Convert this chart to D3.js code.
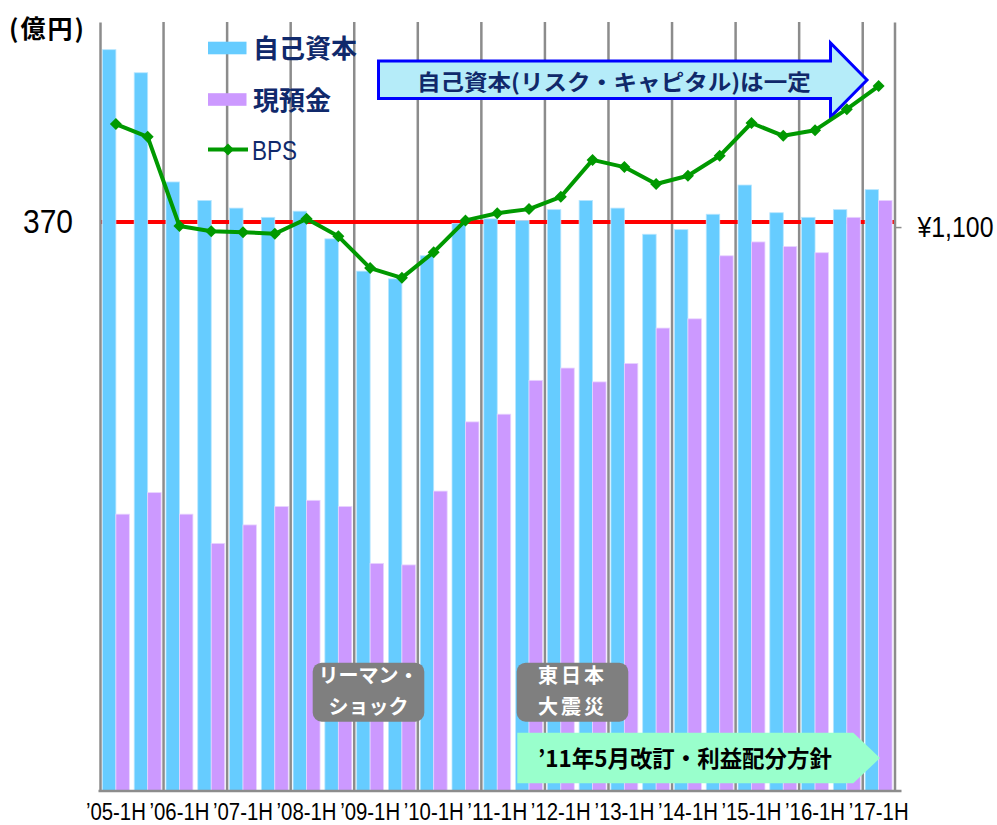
<!DOCTYPE html>
<html>
<head>
<meta charset="utf-8">
<script src="https://cdn.jsdelivr.net/npm/d3@7"></script>
<style>
	body { margin: 0; background: #fff; }
	svg { display: block; }
</style>
</head>
<body>
<div id="chart"></div>
<script>
// Half-year periods
var periods = [
	"’05-1H", "’05-2H", "’06-1H", "’06-2H", "’07-1H", "’07-2H", "’08-1H", "’08-2H",
	"’09-1H", "’09-2H", "’10-1H", "’10-2H", "’11-1H", "’11-2H", "’12-1H", "’12-2H",
	"’13-1H", "’13-2H", "’14-1H", "’14-2H", "’15-1H", "’15-2H", "’16-1H", "’16-2H",
	"’17-1H"
];
// Axis labels shown under the chart
var tickLabels = periods.filter(function(d) { return d.slice(-2) === "1H"; });
// 自己資本 (億円)
var equity = [
	482, 467, 396, 384, 379, 373, 377, 359, 338, 333, 348, 369, 372,
	371, 378, 384, 379, 362, 365, 375, 394, 376, 373, 378, 391
];
// 現預金 (億円)
var cashDeposits = [
	180, 194, 180, 161, 173, 185, 189, 185, 148, 147, 195, 240, 245,
	267, 275, 266, 278, 301, 307, 348, 357, 354, 350, 373, 384
];
// BPS (円)
var bps = [
	1301, 1276, 1102, 1092, 1090, 1087, 1116, 1082, 1020, 1001, 1051, 1113, 1127,
	1135, 1159, 1231, 1217, 1184, 1200, 1239, 1303, 1278, 1289, 1330, 1375
];
// Reference levels
var equityLevel = [370];
var bpsLevel = [1100];

// Canvas parameters
var canvas = {
	width: 997,
	height: 825,
	left: 100,
	right: 894.5,
	top: 22,
	bottom: 791
};
var colors = {
	equity: "#66CCFF",
	equityEdge: "#B8E6FF",
	cash: "#CC99FF",
	cashEdge: "#E8D4FF",
	bps: "#009900",
	grid: "#8C8C8C",
	level: "#FF0000",
	navy: "#10296B"
};
var jpFont = "'Noto Sans CJK JP', 'Noto Sans CJK SC', sans-serif";
var numFont = "'Liberation Sans', 'DejaVu Sans', sans-serif";

// Squeeze a text horizontally to a target width (narrow font look)
function narrow(selection, width) {
	selection.each(function() {
		var node = d3.select(this);
		var sx = width / this.getComputedTextLength();
		var x0 = +node.attr("x") || 0;
		node.attr("x", x0 / sx)
			.attr("transform", (node.attr("transform") || "") + " scale(" + sx + ",1)");
	});
}

var svg = d3.select("#chart")
	.append("svg")
	.attr("width", canvas.width)
	.attr("height", canvas.height)
	.attr("viewBox", "0 0 " + canvas.width + " " + canvas.height);

// Scales
var x = d3.scaleBand()
	.domain(periods)
	.range([canvas.left, canvas.right]);
var xSub = d3.scaleBand()
	.domain(["equity", "cash"])
	.range([0, x.bandwidth()])
	.paddingOuter(0.18);
var yLeft = d3.scaleLinear()
	.domain([0, 500])
	.range([canvas.bottom, canvas.top]);
var yRight = d3.scaleLinear()
	.domain([0, 1500])
	.range([canvas.bottom, canvas.top]);
function xCenter(period) {
	return x(period) + x.bandwidth() / 2;
}

// Year gridlines
svg.selectAll("line.grid")
	.data(periods.filter(function(d, i) { return i % 2 === 0 && i > 0; }))
	.enter()
	.append("line")
	.attr("class", "grid")
	.attr("x1", function(d) { return x(d); })
	.attr("x2", function(d) { return x(d); })
	.attr("y1", canvas.top)
	.attr("y2", canvas.bottom)
	.attr("stroke", colors.grid)
	.attr("stroke-width", 2.5);

// Red reference line (370 / ¥1,100)
svg.selectAll("line.level")
	.data(equityLevel)
	.enter()
	.append("line")
	.attr("class", "level")
	.attr("x1", canvas.left)
	.attr("x2", canvas.right)
	.attr("y1", function(d) { return yLeft(d); })
	.attr("y2", function(d) { return yLeft(d); })
	.attr("stroke", colors.level)
	.attr("stroke-width", 4);

// Bars
svg.selectAll("rect.equity")
	.data(equity)
	.enter()
	.append("rect")
	.attr("class", "equity")
	.attr("x", function(d, i) { return x(periods[i]) + xSub("equity"); })
	.attr("y", function(d) { return yLeft(d); })
	.attr("width", xSub.bandwidth())
	.attr("height", function(d) { return yLeft(0) - yLeft(d); })
	.attr("fill", colors.equity)
	.attr("stroke", colors.equityEdge)
	.attr("stroke-width", 0.8);
svg.selectAll("rect.cash")
	.data(cashDeposits)
	.enter()
	.append("rect")
	.attr("class", "cash")
	.attr("x", function(d, i) { return x(periods[i]) + xSub("cash"); })
	.attr("y", function(d) { return yLeft(d); })
	.attr("width", xSub.bandwidth())
	.attr("height", function(d) { return yLeft(0) - yLeft(d); })
	.attr("fill", colors.cash)
	.attr("stroke", colors.cashEdge)
	.attr("stroke-width", 0.8);

// Axes
var leftAxis = svg.append("g")
	.attr("transform", "translate(" + canvas.left + ",0)")
	.call(d3.axisLeft(yLeft).tickValues(equityLevel).tickSize(0).tickSizeOuter(0).tickPadding(27));
leftAxis.select(".domain").attr("stroke", colors.grid).attr("stroke-width", 2.5);
leftAxis.selectAll("text")
	.attr("font-family", numFont)
	.attr("font-size", "33px")
	.attr("fill", "#000")
	.call(narrow, 50);

var rightAxis = svg.append("g")
	.attr("transform", "translate(" + canvas.right + ",0)")
	.call(d3.axisRight(yRight).tickValues(bpsLevel).tickSize(7).tickSizeOuter(0).tickPadding(16)
		.tickFormat(function(d) { return "¥" + d3.format(",")(d); }));
rightAxis.select(".domain").attr("stroke", colors.grid).attr("stroke-width", 2.5);
rightAxis.selectAll(".tick line").attr("stroke", colors.grid).attr("stroke-width", 1.5);
rightAxis.selectAll("text")
	.attr("font-family", numFont)
	.attr("font-size", "29px")
	.attr("fill", "#000")
	.call(narrow, 76);

svg.append("line")
	.attr("x1", canvas.left - 1.5)
	.attr("x2", canvas.right + 7)
	.attr("y1", canvas.bottom)
	.attr("y2", canvas.bottom)
	.attr("stroke", colors.grid)
	.attr("stroke-width", 2.5);

svg.selectAll("text.xlabel")
	.data(tickLabels)
	.enter()
	.append("text")
	.attr("class", "xlabel")
	.text(function(d) { return d; })
	.attr("transform", function(d) { return "translate(" + xCenter(d) + ",819.5)"; })
	.attr("text-anchor", "middle")
	.attr("font-family", numFont)
	.attr("font-size", "24px")
	.attr("fill", "#000")
	.call(narrow, 60);

// Unit
svg.append("text")
	.text("(億円)")
	.attr("x", 9)
	.attr("y", 38)
	.attr("letter-spacing", "2px")
	.attr("font-family", jpFont)
	.attr("font-weight", "bold")
	.attr("font-size", "25px")
	.attr("fill", "#000");

// Annotation: blue arrow
var blueArrow = [[378.5, 61], [830.5, 61], [830.5, 43], [867, 80], [830.5, 117], [830.5, 98.5], [378.5, 98.5]];
svg.append("polygon")
	.attr("points", blueArrow.map(function(p) { return p.join(","); }).join(" "))
	.attr("fill", "#B5ECF9")
	.attr("stroke", "#0000FF")
	.attr("stroke-width", 3)
	.attr("stroke-linejoin", "miter");
svg.append("text")
	.text("自己資本(リスク・キャピタル)は一定")
	.attr("transform", "translate(417,90)")
	.attr("font-family", jpFont)
	.attr("font-weight", "bold")
	.attr("font-size", "22px")
	.attr("fill", colors.navy)
	.call(narrow, 394);

// Annotation: gray event boxes
var events = [
	{ x: 312.7, lines: ["リーマン・", "ショック"] },
	{ x: 516.7, lines: ["東日本", "大震災"] }
];
var eventBox = svg.selectAll("g.event")
	.data(events)
	.enter()
	.append("g")
	.attr("class", "event")
	.attr("transform", function(d) { return "translate(" + d.x + ",662.7)"; });
eventBox.append("rect")
	.attr("width", 111.6)
	.attr("height", 59)
	.attr("rx", 9)
	.attr("fill", "#7F7F7F");
eventBox.selectAll("text")
	.data(function(d) { return d.lines; })
	.enter()
	.append("text")
	.text(function(d) { return d; })
	.attr("x", 55.8)
	.attr("y", function(d, i) { return 20 + i * 31; })
	.attr("text-anchor", "middle")
	.attr("letter-spacing", function(d) { return d.length === 3 ? "3px" : "0px"; })
	.attr("font-family", jpFont)
	.attr("font-weight", "bold")
	.attr("font-size", "20px")
	.attr("fill", "#fff");

// Annotation: green arrow
var greenArrow = [[517.3, 732.7], [853.3, 732.7], [880, 758], [853.3, 783.3], [517.3, 783.3]];
svg.append("polygon")
	.attr("points", greenArrow.map(function(p) { return p.join(","); }).join(" "))
	.attr("fill", "#99FFCC");
svg.append("text")
	.text("’11年5月改訂・利益配分方針")
	.attr("transform", "translate(538,767)")
	.attr("font-family", jpFont)
	.attr("font-weight", "bold")
	.attr("font-size", "23px")
	.attr("fill", "#000")
	.call(narrow, 294);

// BPS line
var line = d3.line()
	.x(function(d, i) { return xCenter(periods[i]); })
	.y(function(d) { return yRight(d); });
svg.append("path")
	.datum(bps)
	.attr("d", line)
	.attr("fill", "none")
	.attr("stroke", colors.bps)
	.attr("stroke-width", 4)
	.attr("stroke-linejoin", "round");
var diamond = d3.symbol().type(d3.symbolSquare).size(72);
svg.selectAll("path.marker")
	.data(bps)
	.enter()
	.append("path")
	.attr("class", "marker")
	.attr("d", diamond)
	.attr("transform", function(d, i) {
		return "translate(" + xCenter(periods[i]) + "," + yRight(d) + ") rotate(45)";
	})
	.attr("fill", colors.bps);

// Legend
var legend = [
	{ name: "自己資本", type: "bar", color: colors.equity, y: 48 },
	{ name: "現預金", type: "bar", color: colors.cash, y: 99.5 },
	{ name: "BPS", type: "line", color: colors.bps, y: 149.5 }
];
var legendItem = svg.selectAll("g.legend_item")
	.data(legend)
	.enter()
	.append("g")
	.attr("class", "legend_item")
	.attr("transform", function(d) { return "translate(208," + d.y + ")"; });
legendItem.filter(function(d) { return d.type === "bar"; })
	.append("rect")
	.attr("y", -6.3)
	.attr("width", 38.5)
	.attr("height", 12.6)
	.attr("fill", function(d) { return d.color; });
var legendLine = legendItem.filter(function(d) { return d.type === "line"; });
legendLine.append("line")
	.attr("x1", 0)
	.attr("x2", 40)
	.attr("stroke", function(d) { return d.color; })
	.attr("stroke-width", 4);
legendLine.append("path")
	.attr("d", diamond)
	.attr("transform", "translate(20,0) rotate(45)")
	.attr("fill", function(d) { return d.color; });
legendItem.filter(function(d) { return d.type === "bar"; })
	.append("text")
	.text(function(d) { return d.name; })
	.attr("x", 45)
	.attr("y", 10)
	.attr("font-family", jpFont)
	.attr("font-weight", "bold")
	.attr("font-size", "26px")
	.attr("fill", colors.navy);
legendLine.append("text")
	.text(function(d) { return d.name; })
	.attr("transform", "translate(44,10.5)")
	.attr("font-family", numFont)
	.attr("font-size", "28px")
	.attr("fill", colors.navy)
	.call(narrow, 45);
</script>
</body>
</html>
